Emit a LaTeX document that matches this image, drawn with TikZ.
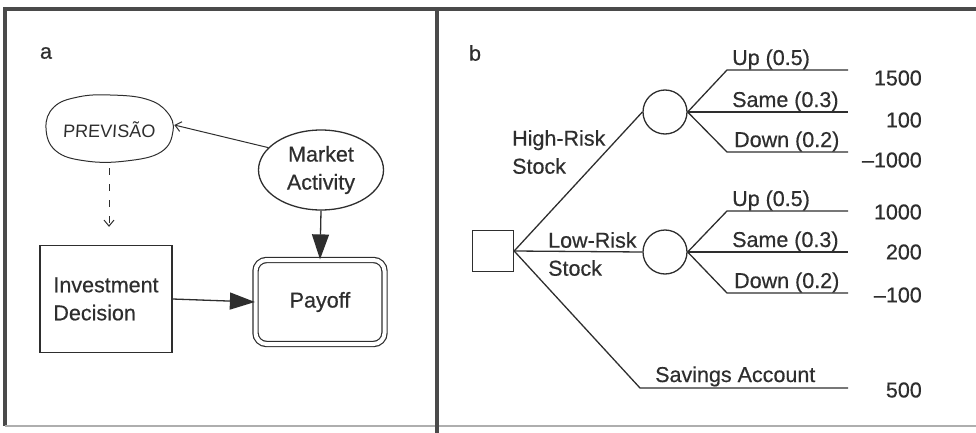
\documentclass[tikz,border=0pt]{standalone}
\usepackage{fontspec}
\setmainfont{Liberation Sans}[FakeBold=0.5]
\newfontfamily\handfont{Liberation Sans}
\usetikzlibrary{arrows.meta,shapes.geometric}
\definecolor{ink}{HTML}{2E2E2E}
\definecolor{frame}{HTML}{4A4A4A}
\begin{document}
\begin{tikzpicture}[x=1pt,y=-1pt,
  every node/.style={text=ink,font=\fontsize{21.5}{28}\selectfont},
  ln/.style={draw=ink,line width=1.3pt},
  bigtip/.style={-{Triangle[length=25pt,width=17pt]}},
  barb/.style={-{Straight Barb[length=6pt,width=10pt]}},
  lab/.style={anchor=base west,inner sep=0pt},
  val/.style={anchor=east,inner sep=0pt},
  dot/.style={circle,draw=ink,line width=1.3pt,minimum size=44pt,inner sep=0pt}]
\useasboundingbox (0,0) rectangle (976,433);
% frame
\draw[frame,line width=3.2pt] (976,9) -- (5,9) -- (5,426);
\draw[frame!45,line width=1.4pt] (5,426) -- (976,426);
\draw[frame,line width=3.2pt] (437,9) -- (437,433);
% panel labels
\node (la) at (46,53) {a};
\node (lb) at (475,53) {b};
% ---------- panel a ----------
\node[ellipse,minimum width=126pt,minimum height=64pt,inner sep=0pt] (prev) at (109,130)
  {\handfont\fontsize{18}{20}\selectfont\addfontfeature{FakeSlant=0.06}PREVISÃO};
\draw[ink,line width=1pt] plot[smooth cycle,tension=0.7] coordinates
  {(46,128) (54,107) (78,97) (110,95) (146,99) (167,112) (173,131) (161,152) (126,161) (86,161) (56,151)};
\node[ellipse,draw=ink,line width=1.3pt,minimum width=125pt,minimum height=80pt,inner sep=0pt,align=center] (mkt) at (321,170) {Market\\Activity};
\node[draw=ink,line width=1.3pt,minimum width=132pt,minimum height=107pt,inner sep=0pt,align=left] (inv) at (106,299) {Investment\\Decision};
\node[draw=ink,line width=1.2pt,double,double distance=4pt,rounded corners=11pt,minimum width=129pt,minimum height=84pt] (pay) at (320,302) {Payoff};
\draw[ink,line width=1pt,barb] (mkt.157) -- ([yshift=5pt]prev.east);
\draw[ink,line width=1pt,dashed,dash pattern=on 7pt off 9pt,barb,shorten <=6pt,shorten >=18pt] (prev.south) -- (prev.south |- inv.north);
\draw[ln,fill=ink,bigtip] (mkt.south) -- (pay.north);
\draw[ln,fill=ink,bigtip] (inv.east) -- (pay.west);
% ---------- panel b ----------
\node[draw=ink,line width=1.3pt,minimum size=41pt,inner sep=0pt] (dec) at (493,251) {};
\node[dot] (c1) at (665,112) {};
\node[dot] (c2) at (665,252) {};
\coordinate (h1) at (727,70);  \coordinate (h1e) at (848,70);
\coordinate (h2e) at (848,112);
\coordinate (h3) at (727,152); \coordinate (h3e) at (848,152);
\coordinate (l1) at (727,211); \coordinate (l1e) at (848,211);
\coordinate (l2e) at (848,252);
\coordinate (l3) at (727,293); \coordinate (l3e) at (848,293);
\coordinate (s1) at (640,388); \coordinate (s1e) at (848,388);
\draw[ln] (dec.east) -- (c1.west);
\draw[ln] (dec.east) -- (c2.west);
\draw[ln] (dec.east) -- (s1) -- (s1e);
\draw[ln] (c1.east) -- (h1) -- (h1e);
\draw[ln] (c1.east) -- (h2e);
\draw[ln] (c1.east) -- (h3) -- (h3e);
\draw[ln] (c2.east) -- (l1) -- (l1e);
\draw[ln] (c2.east) -- (l2e);
\draw[ln] (c2.east) -- (l3) -- (l3e);
% labels
\node[lab] (u1) at (732,65) {Up (0.5)};
\node[lab] (s1l) at (732,107) {Same (0.3)};
\node[lab] (d1) at (734,147) {Down (0.2)};
\node[lab] (u2) at (732,206) {Up (0.5)};
\node[lab] (s2l) at (732,247) {Same (0.3)};
\node[lab] (d2) at (734,288) {Down (0.2)};
\node[lab] (sav) at (655,382) {Savings Account};
\node[anchor=west,align=left,inner sep=0pt] (hr) at (512,152) {High-Risk\\Stock};
\node[anchor=west,align=left,inner sep=0pt] (lr) at (548,254) {Low-Risk\\Stock};
% values
\node[val] (v1) at (922,78) {1500};
\node[val] (v2) at (922,120) {100};
\node[val] (v3) at (922,160) {\textendash1000};
\node[val] (v4) at (922,212) {1000};
\node[val] (v5) at (922,252) {200};
\node[val] (v6) at (922,295) {\textendash100};
\node[val] (v7) at (922,390) {500};
\end{tikzpicture}
\end{document}
